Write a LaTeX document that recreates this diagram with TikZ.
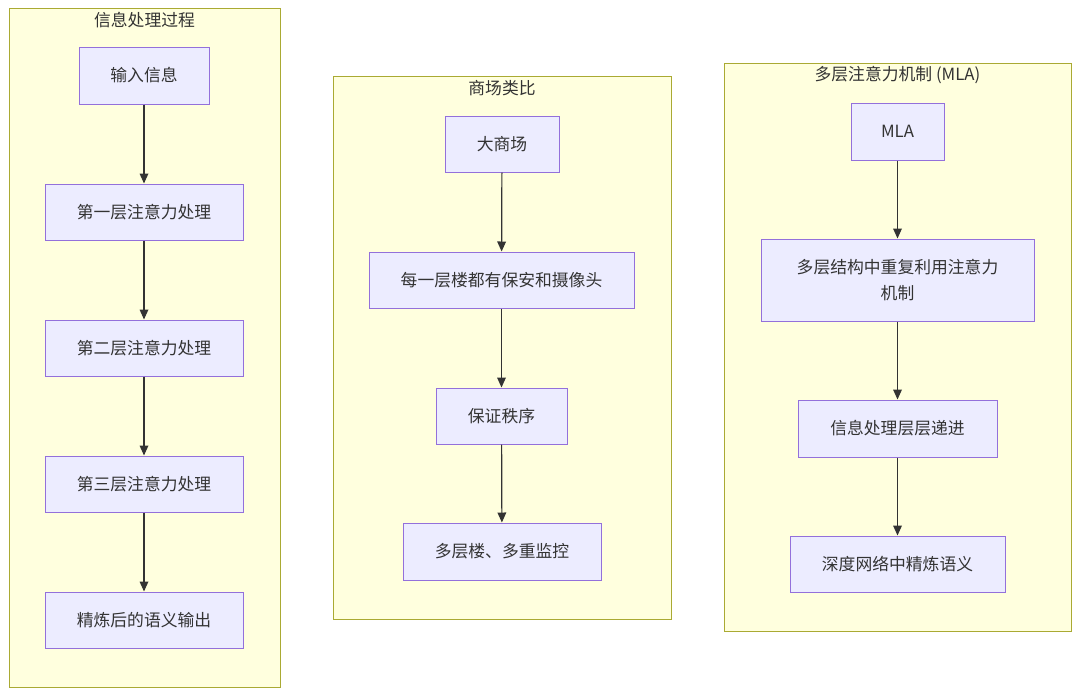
\documentclass[tikz,border=0pt]{standalone}
\usepackage{fontspec}
\setmainfont{Noto Sans CJK SC}
\usetikzlibrary{arrows.meta}
\definecolor{clfill}{HTML}{FFFFDE}
\definecolor{cldraw}{HTML}{AAAA33}
\definecolor{ndfill}{HTML}{ECECFF}
\definecolor{nddraw}{HTML}{9370DB}
\definecolor{txt}{HTML}{333333}
\tikzset{
  box/.style={draw=nddraw, fill=ndfill, line width=0.75pt, text=txt, align=center,
    font=\fontsize{12.6}{20}\selectfont, inner sep=0pt},
  cluster/.style={draw=cldraw, fill=clfill, line width=0.75pt},
  ctitle/.style={text=txt, font=\fontsize{12.6}{15}\selectfont, inner sep=0pt},
  flow/.style={draw=txt, line width=0.9pt, -{Triangle[length=7.5pt,width=6.5pt]}}
}
\begin{document}
\begin{tikzpicture}[x=0.75pt,y=-0.75pt]
\useasboundingbox (0,0) rectangle (1080,696);
% clusters
\draw[cluster] (9,8) rectangle (280,687);
\node[ctitle] (t1) at (144.5,20) {信息处理过程};
\draw[cluster] (333,76) rectangle (671,619);
\node[ctitle] (t2) at (502,88) {商场类比};
\draw[cluster] (724,63) rectangle (1071,631);
\node[ctitle] (t3) at (897.5,75) {多层注意力机制 (MLA)};
% cluster 1
\node[box, minimum width=130*0.75pt, minimum height=57*0.75pt] (a1) at (144,75.5) {输入信息};
\node[box, minimum width=198*0.75pt, minimum height=56*0.75pt] (a2) at (144,212) {第一层注意力处理};
\node[box, minimum width=198*0.75pt, minimum height=56*0.75pt] (a3) at (144,348) {第二层注意力处理};
\node[box, minimum width=198*0.75pt, minimum height=56*0.75pt] (a4) at (144,484) {第三层注意力处理};
\node[box, minimum width=198*0.75pt, minimum height=56*0.75pt] (a5) at (144,620) {精炼后的语义输出};
% cluster 2
\node[box, minimum width=114*0.75pt, minimum height=56*0.75pt] (b1) at (502,144) {大商场};
\node[box, minimum width=265*0.75pt, minimum height=56*0.75pt] (b2) at (501.5,280) {每一层楼都有保安和摄像头};
\node[box, minimum width=131*0.75pt, minimum height=56*0.75pt] (b3) at (501.5,416) {保证秩序};
\node[box, minimum width=198*0.75pt, minimum height=57*0.75pt] (b4) at (502,551.5) {多层楼、多重监控};
% cluster 3
\node[box, minimum width=93*0.75pt, minimum height=57*0.75pt] (c1) at (897.5,131.5) {MLA};
\node[box, minimum width=273*0.75pt, minimum height=82*0.75pt] (c2) at (897.5,280) {多层结构中重复利用注意力\\机制};
\node[box, minimum width=199*0.75pt, minimum height=57*0.75pt] (c3) at (897.5,428.5) {信息处理层层递进};
\node[box, minimum width=215*0.75pt, minimum height=56*0.75pt] (c4) at (897.5,564) {深度网络中精炼语义};
% connectors
\draw[flow] (a1) -- (a2);
\draw[flow] (a2) -- (a3);
\draw[flow] (a3) -- (a4);
\draw[flow] (a4) -- (a5);
\draw[flow] (b1) -- (b2);
\draw[flow] (b2) -- (b3);
\draw[flow] (b3) -- (b4);
\draw[flow] (c1) -- (c2);
\draw[flow] (c2) -- (c3);
\draw[flow] (c3) -- (c4);
\end{tikzpicture}
\end{document}
